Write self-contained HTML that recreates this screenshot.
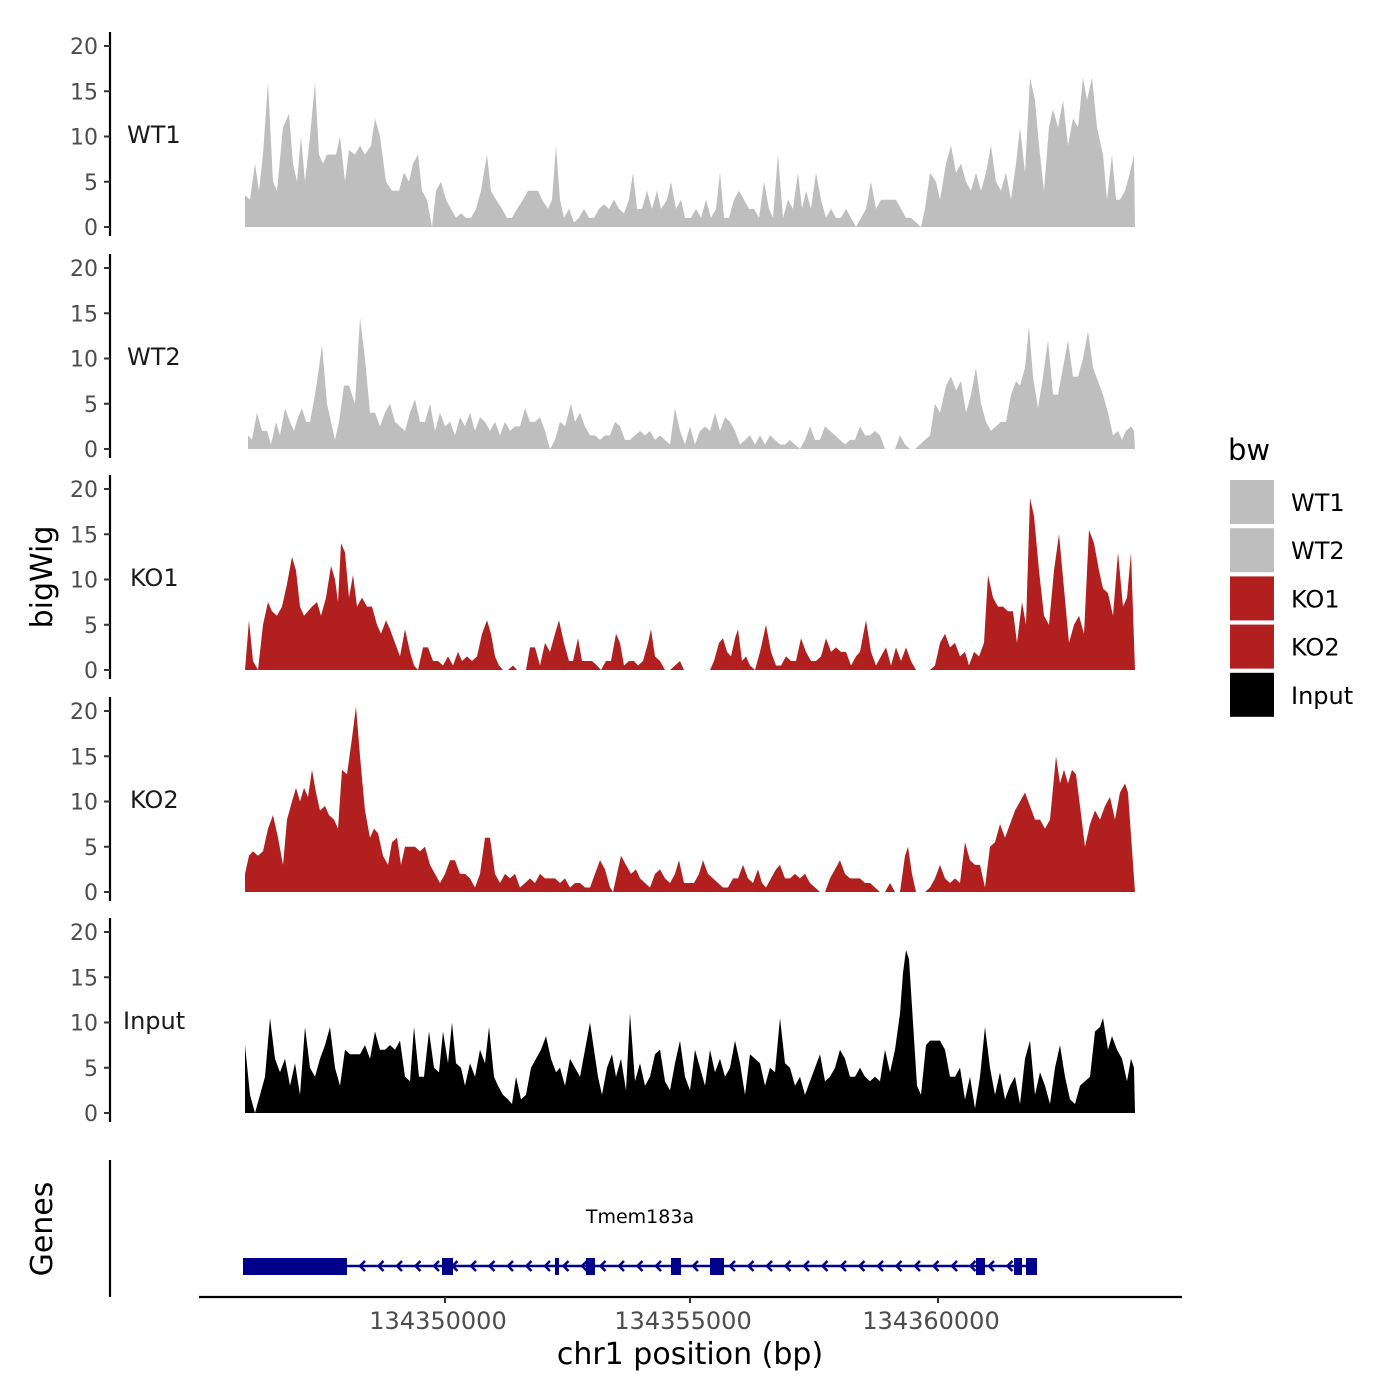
<!DOCTYPE html>
<html><head><meta charset="utf-8"><style>
body{margin:0;background:#fff}
svg{display:block;font-family:"DejaVu Sans","Liberation Sans",sans-serif}
</style></head><body>
<svg id="s" width="1400" height="1400" xmlns="http://www.w3.org/2000/svg"></svg>
<script>
const s=document.getElementById('s');
let h='<rect width="1400" height="1400" fill="#fff"/>';
function P(str){return str.trim().split(/,\s*/).map(t=>t.split(':').map(Number));}
const tracks=[
{n:'WT1',b:227,c:'#bebebe',d:P(`245:3.5,250:3,255:7,259:4,263:8,268:16,273:5,277:4,283:11,289:12.5,293:7,297:5,301:10,305:5,310:10,315:16,319:8,323:7,327:8,331:8,336:8,340:10,345:5,349:8.5,355:8,360:9,365:8,371:9,375:12,380:10,386:5,392:4,399:4,404:6,409:5,413:7,418:8,422:4,427:3,432:0,436:4,441:5,446:3,451:2,456:1,461:1.5,466:1,471:1,476:2,481:4,487:8,491:4,496:3,502:2,507:1,512:1,517:2,523:3,528:4,533:4,538:4,542:3,548:2,552:3,556:9,560:3,564:1,569:2,574:0.5,579:1,584:2,589:1,594:1,599:2,604:2.5,609:2,614:3,619:2,624:1.5,629:3,633:6,637:2,642:2,647:4,652:2,657:4,661:2,667:3,671:5,676:2,681:3,685:1,691:1,696:2,701:1,706:3,711:1,716:2,720:6,724:1,729:1,734:3,739:4,744:3,749:2,754:2,759:1,764:5,769:2,773:1,778:8,783:1,788:3,793:2,798:6,802:2,806:4,811:2,816:6,821:3,826:1,831:2,836:1,841:1,846:2,851:1,856:0,861:1,866:2,871:5,876:2,881:3,886:3,891:3,896:3,901:2,906:1,911:1,916:0.5,921:0,925:2,930:6,936:5,940:3,946:7,951:9,956:6,961:7,966:5,971:4,976:6,981:4,986:6,991:9,996:5,1001:4,1006:6,1011:3,1016:7,1020:11,1025:6,1030:16.5,1035:14,1039:9,1044:4,1049:11,1053:13,1058:11,1063:14,1068:9,1073:12,1078:11,1083:16.5,1087:14,1092:16.5,1097:11,1103:8,1107:3,1112:8,1116:3,1120:3,1125:4,1130:6,1134:8,1135:0`)},
{n:'WT2',b:449,c:'#bebebe',d:P(`248:1.5,252:1,257:4,262:2,267:2,271:0.5,276:3,280:1.5,285:4.5,290:3,294:2,298:3.5,302:4.5,306:3,310:3,315:6,319:9,322:11.5,327:5,331:3,335:1,339:3,344:7,349:7,355:5,360:14.5,365:10,370:4,375:4,380:2.5,385:4,390:5,395:3,400:2.5,405:2,410:4,415:5.5,420:3,425:3,430:5,435:2,440:4,445:2.5,450:3,455:1.5,460:3.5,465:2.5,470:4,475:2,480:3.5,485:3,490:2,495:3,500:1.5,505:3,510:2,515:2.5,520:2.5,525:4.5,530:3,535:3,540:3.5,545:2,550:0,555:1,560:3,565:2.5,571:5,575:3,580:4,585:2.5,590:1.5,595:1.5,600:1,605:1.5,610:1.5,615:3,620:2.5,625:1,630:1,635:1.5,640:2,645:1.5,650:2,655:1,660:1.5,665:1,670:0.5,675:4.5,680:2,685:0.5,690:2.5,695:0.5,700:2,705:2.5,710:2,715:4,720:2,725:3.5,730:3,735:2,740:0.5,745:1,750:1.5,755:0.5,760:1.5,765:0.5,770:1.5,775:1,780:0.5,785:0.5,790:1,795:0.5,800:0,805:1,810:2.5,815:1,820:1,825:2.5,830:2,835:1.5,840:1,845:0.5,850:1,855:1,860:2.5,865:1.5,870:1.5,875:2,880:1.5,885:0,890:0,895:0,900:1.5,905:0.5,910:0,915:0,920:0.5,925:1,930:1.5,935:5,940:4,946:7,951:8,956:6.5,961:7.5,966:4,971:6,976:9,981:5,986:3,991:2,996:2.5,1001:3,1006:3,1011:6,1016:7.5,1020:7,1025:9,1029:13.5,1033:8,1038:4.5,1043:8,1048:12,1053:6,1058:6,1063:9,1068:12,1073:8,1078:8,1083:10,1088:13,1093:9,1098:7.5,1103:6,1108:4,1113:1.5,1118:2,1122:1,1126:2,1131:2.5,1134:2,1135:0`)},
{n:'KO1',b:670,c:'#b21f1f',d:P(`245:0,249:5.5,253:1,258:0,263:5,268:7.5,272:6.5,277:6,282:7,287:9.5,292:12.5,296:11,300:7,304:6,308:6.5,312:7,317:7.5,321:6,326:8,331:11.5,335:10,338:7.5,341:14,345:13,349:8,353:10.5,357:7,362:8,367:7,372:7,377:5,381:4,386:5.5,390:4.5,395:3,400:1.5,405:4.5,410:2,414:0.5,418:0,423:2.5,428:2.5,433:1,438:1,443:0.5,448:1.5,453:0.5,458:2,462:1,467:1.5,472:1,477:1.5,482:4,487:5.5,491:4,495:1.5,499:0.5,503:0,508:0,513:0.5,517:0,521:0,526:0,530:2.5,535:2.5,540:0.5,545:3,550:2,555:4,559:5.5,564:3,569:1,573:1,578:3.5,582:1,587:1,592:1,597:0.5,601:0,606:1,611:1,616:4,620:3,624:0.5,629:1,634:1,638:0.5,643:1,648:3,651:4.5,655:1.5,660:1,665:0,670:0,675:0.5,680:1,684:0,690:0,700:0,710:0,714:1,719:3,723:3.5,727:2,731:1.5,735:3.5,738:4.5,742:1,746:1.5,750:0.5,755:0,760:2,766:5,771:2,776:0.5,781:0.5,786:1.5,791:1,796:1,801:3.5,806:2,811:1,816:1,821:1.5,826:3.5,831:2,836:2.5,841:2,846:2,851:0.5,856:1.5,860:2,866:5.5,871:2,876:0.5,881:1.5,886:2.5,891:0.5,896:2.5,901:1,906:2.5,911:1,916:0,920:0,930:0,935:0.5,940:3,945:4,950:2.5,955:3,960:1.5,965:2,969:0.5,974:2,979:1.5,984:3,988:10.5,993:8,998:7,1003:7,1008:6.5,1013:6.5,1017:3,1022:7.5,1026:5,1030:19,1034:17,1039:11,1044:6,1049:5,1054:11,1059:15,1064:9,1069:3,1074:5,1079:6,1084:4,1089:15.5,1094:14,1099:11,1103:9,1108:8.5,1113:6,1118:13,1123:7,1127:8,1131:13,1135:0`)},
{n:'KO2',b:892,c:'#b21f1f',d:P(`245:2,249:4,253:4.5,258:4,263:4.5,268:7,273:8.5,278:6,283:3,287:8,292:10,296:11.5,300:10,304:11.5,308:10.5,312:13.5,316:11,320:9,325:9.5,329:8.5,334:8,338:7,342:13.5,347:13,352:17,356:20.5,360:15,365:9,370:6,374:7,378:6.5,383:4,388:3,392:5.5,397:6,401:3,405:5,410:5,415:5,420:4.5,425:5,430:3,435:2,440:1,445:2,450:3.5,455:3.5,460:2,465:2,470:1.5,475:0.5,480:2,485:6,490:6,495:2,500:1,505:2,510:1.5,515:2,520:0.5,525:1,530:1.5,535:1,540:2,545:1.5,550:1.5,555:1.5,560:1,565:1.5,570:0.5,575:1,580:1,585:0.5,590:0.5,595:2,600:3.5,605:2.5,610:0.5,613:0,617:2,621:4,626:3,631:2,636:2.5,640:1.5,645:1,650:0.5,655:2,660:2.5,665:1.5,670:1,675:2,679:3.5,684:1,689:1,694:1,699:2,703:3.5,708:2,713:1.5,718:1,723:0.5,728:0.5,733:1.5,738:1.5,743:3,748:1.5,753:1,758:2.5,762:1,766:0.5,771:1.5,776:2.5,780:3,785:1.5,790:1.5,795:2,800:1.5,805:2,810:1,815:0.5,820:0,825:0,830:1.5,835:2.5,840:3.5,845:2,850:1.5,855:1.5,860:1.5,865:1,870:1,875:0.5,880:0,885:0,890:1,895:0,900:0,905:4,908:5,912:2,916:0,920:0,925:0,930:0.5,935:1.5,940:3,945:1.5,950:1,955:1.5,960:1,965:5.5,970:3.5,975:3,980:3,985:0.5,990:5,995:5.5,1000:7.5,1005:6,1010:7.5,1015:9,1020:10,1025:11,1030:9.5,1035:8,1040:8,1045:7,1050:8,1056:15,1060:12,1064:13.5,1068:12,1072:13.5,1076:13,1080:9.5,1085:5,1090:7.5,1095:9,1100:8,1105:9.5,1110:10.5,1115:8,1120:11,1125:12,1128:11,1135:0`)},
{n:'Input',b:1113,c:'#000',d:P(`245:7.5,250:2,255:0,260:2,265:4,270:10.5,275:6,280:4.5,285:6,290:3,295:5.5,300:2,305:9.5,310:5,315:4,320:6,325:7.5,330:9.5,335:5,340:3,345:7,350:6.5,355:6.5,360:6.5,365:7.5,370:6,375:9,380:7,385:7,390:7.5,395:7,400:8,405:4,410:3.5,414:9.5,419:4,424:4,429:9,434:5,439:4.5,443:9,448:5.5,452:10,456:5.5,461:5,465:3,470:5.5,475:4,480:7,485:5.5,489:9.5,494:4,498:3,503:2,508:1.5,512:1,516:4,521:1.5,526:2,531:5,536:6,541:7,546:8.5,551:6,556:4.5,560:5,565:3,570:6,575:5,580:4,585:7,590:10,594:7,598:4,602:2,607:5,612:6.5,616:4,621:6,626:2.5,630:11,635:3.5,640:5.5,645:3,650:4,655:6.5,660:7,665:3.5,670:2.5,675:5.5,680:8,685:4,690:2.5,695:7,700:5,705:3,710:7,715:4.5,720:6,725:4,730:5,735:8,740:5.5,745:2,750:6.5,755:6,760:5.5,765:3,770:5,775:4.5,780:10.5,785:5.5,790:5,795:3,800:4,805:2,810:3.5,815:5,820:6.5,825:3.5,830:4,835:5,840:7,845:6,850:4,855:4,860:5,865:4,870:3.5,875:4,880:3.5,885:7,890:4.5,895:7,900:11,903:15.5,906:18,909:17,913:10,917:3,921:2,926:7.5,930:8,935:8,940:8,945:7,950:4,955:4,960:5,965:1.5,970:4,975:0.5,980:4,985:9.5,990:5,995:2,1000:4.5,1005:1.5,1010:3,1015:4,1020:1,1025:6,1030:8,1035:2,1040:4.5,1045:3,1050:1,1055:5,1060:7.5,1065:4,1070:1.5,1075:1,1080:3,1085:3.5,1090:4,1095:9,1100:9.5,1103:10.5,1108:7,1112:8.5,1117:7,1122:6,1127:3.5,1131:6,1134:5,1135:0`)}
];
const K=9.05;
tracks.forEach(t=>{
  let d='M'+t.d[0][0]+','+t.b;
  t.d.forEach(p=>{d+=' L'+p[0]+','+(t.b-p[1]*K).toFixed(1);});
  d+=' L'+t.d[t.d.length-1][0]+','+t.b+' Z';
  h+=`<path d="${d}" fill="${t.c}"/>`;
  const top=t.b-195;
  h+=`<line x1="110" y1="${top}" x2="110" y2="${t.b+9}" stroke="#000" stroke-width="2.2"/>`;
  for(let v=0;v<=20;v+=5){const y=t.b-v*K;
    h+=`<line x1="104" y1="${y}" x2="110" y2="${y}" stroke="#333" stroke-width="2"/>`;
    h+=`<text x="98" y="${y+8}" text-anchor="end" font-size="22" fill="#4d4d4d">${v}</text>`;}
  h+=`<text x="${t.n=='Input'?123:(t.n[0]=='K'?130:127)}" y="${t.b-84}" font-size="24" fill="#1a1a1a">${t.n}</text>`;
});
h+='<line x1="110" y1="1160" x2="110" y2="1297" stroke="#000" stroke-width="2.2"/>';
h+='<line x1="199" y1="1297" x2="1182" y2="1297" stroke="#000" stroke-width="2.2"/>';
[[445,'134350000'],[690,'134355000'],[938,'134360000']].forEach(a=>{
 h+=`<line x1="${a[0]}" y1="1297" x2="${a[0]}" y2="1303" stroke="#333" stroke-width="2"/>`;
 h+=`<text x="${a[0]-7}" y="1329" text-anchor="middle" font-size="24" fill="#4d4d4d">${a[1]}</text>`;});
h+='<line x1="243" y1="1266" x2="1037" y2="1266" stroke="#00008b" stroke-width="2.5"/>';
for(let x=360;x<1010;x+=18.5){h+=`<polyline points="${x+5},${1261} ${x},${1266} ${x+5},${1271}" fill="none" stroke="#00008b" stroke-width="2.5"/>`;}
[[243,347],[442,453],[555,559],[586,595],[671,681],[710,724],[976,985],[1014,1022],[1026,1037]].forEach(e=>{
 h+=`<rect x="${e[0]}" y="1258" width="${e[1]-e[0]}" height="17" fill="#00008b"/>`;});
h+='<text x="640" y="1223" text-anchor="middle" font-size="19" fill="#000">Tmem183a</text>';
h+='<text x="0" y="0" font-size="30" transform="translate(52,577) rotate(-90)" text-anchor="middle">bigWig</text>';
h+='<text x="0" y="0" font-size="30" transform="translate(52,1229) rotate(-90)" text-anchor="middle">Genes</text>';
h+='<text x="690" y="1364" text-anchor="middle" font-size="30">chr1 position (bp)</text>';
h+='<text x="1228" y="460" font-size="29">bw</text>';
[['WT1','#bebebe'],['WT2','#bebebe'],['KO1','#b21f1f'],['KO2','#b21f1f'],['Input','#000']].forEach((l,i)=>{
 const y=480+i*48.2;
 h+=`<rect x="1230" y="${y}" width="44" height="44" fill="${l[1]}"/>`;
 h+=`<text x="1291" y="${y+31}" font-size="24">${l[0]}</text>`;});
s.innerHTML=h;
</script>
</body></html>
